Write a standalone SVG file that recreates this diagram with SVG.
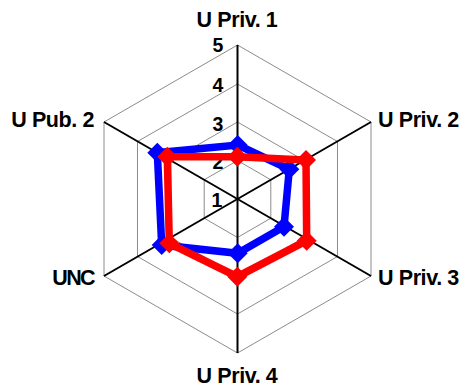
<svg xmlns="http://www.w3.org/2000/svg" width="465" height="389" viewBox="0 0 465 389">
<style>
.ring{fill:none;stroke:#8c8c8c;stroke-width:1}
.axis{stroke:#000;stroke-width:2}
.lbl{font-family:"Liberation Sans",Arial,sans-serif;font-weight:bold;font-size:21.5px;fill:#000;letter-spacing:-0.4px}
.tick{font-family:"Liberation Sans",Arial,sans-serif;font-weight:bold;font-size:19.5px;fill:#000;text-anchor:middle}
.blue{fill:none;stroke:#0000ff;stroke-width:7.5;stroke-linejoin:miter}
.red{fill:none;stroke:#ff0000;stroke-width:7.5;stroke-linejoin:miter}
</style>
<defs>
<path id="dia" d="M0,-10 L10,0 L0,10 L-10,0 Z"/>
</defs>
<rect width="465" height="389" fill="#fff"/>
<g id="grid">
<polygon class="ring" points="237.5,160.5 270.8,179.8 270.8,218.2 237.5,237.5 204.2,218.2 204.2,179.8"/>
<polygon class="ring" points="237.5,122 304.2,160.5 304.2,237.5 237.5,276 170.8,237.5 170.8,160.5"/>
<polygon class="ring" points="237.5,84 337.5,141.5 337.5,256.5 237.5,314 137.5,256.5 137.5,141.5"/>
<polygon class="ring" points="237.5,45 371,122 371,276 237.5,353 104,276 104,122"/>
</g>
<g id="axes">
<line class="axis" x1="237.5" y1="199" x2="237.5" y2="45"/>
<line class="axis" x1="237.5" y1="199" x2="371" y2="122"/>
<line class="axis" x1="237.5" y1="199" x2="371" y2="276"/>
<line class="axis" x1="237.5" y1="199" x2="237.5" y2="353"/>
<line class="axis" x1="237.5" y1="199" x2="104" y2="276"/>
<line class="axis" x1="237.5" y1="199" x2="104" y2="122"/>
</g>
<g id="ticks">
<text class="tick" x="218" y="52">5</text>
<text class="tick" x="218" y="92">4</text>
<text class="tick" x="218" y="131">3</text>
<text class="tick" x="218" y="169">2</text>
<text class="tick" x="217" y="207">1</text>
</g>
<g id="labels">
<text class="lbl" x="237" y="27" text-anchor="middle">U Priv. 1</text>
<text class="lbl" x="378" y="127">U Priv. 2</text>
<text class="lbl" x="378" y="285">U Priv. 3</text>
<text class="lbl" x="237" y="383" text-anchor="middle">U Priv. 4</text>
<text class="lbl" x="94" y="285" text-anchor="end" style="letter-spacing:-1.6px">UNC</text>
<text class="lbl" x="94" y="127" text-anchor="end">U Pub. 2</text>
</g>
<g id="series-blue">
<polygon class="blue" points="237.7,145 289.3,169.3 284,226.7 237.7,253.3 161.7,245 157.3,152.7"/>
<g fill="#0000ff">
<use href="#dia" x="237.7" y="145"/>
<use href="#dia" x="289.3" y="169.3"/>
<use href="#dia" x="284" y="226.7"/>
<use href="#dia" x="237.7" y="253.3"/>
<use href="#dia" x="161.7" y="245"/>
<use href="#dia" x="157.3" y="152.7"/>
</g>
</g>
<g id="series-red">
<polygon class="red" points="237.3,156.7 306,160 306.7,240.7 237.3,276.7 169.3,243.3 167.3,156.7"/>
<g fill="#ff0000">
<use href="#dia" x="237.3" y="156.7"/>
<use href="#dia" x="306" y="160"/>
<use href="#dia" x="306.7" y="240.7"/>
<use href="#dia" x="237.3" y="276.7"/>
<use href="#dia" x="169.3" y="243.3"/>
<use href="#dia" x="167.3" y="156.7"/>
</g>
</g>
</svg>
